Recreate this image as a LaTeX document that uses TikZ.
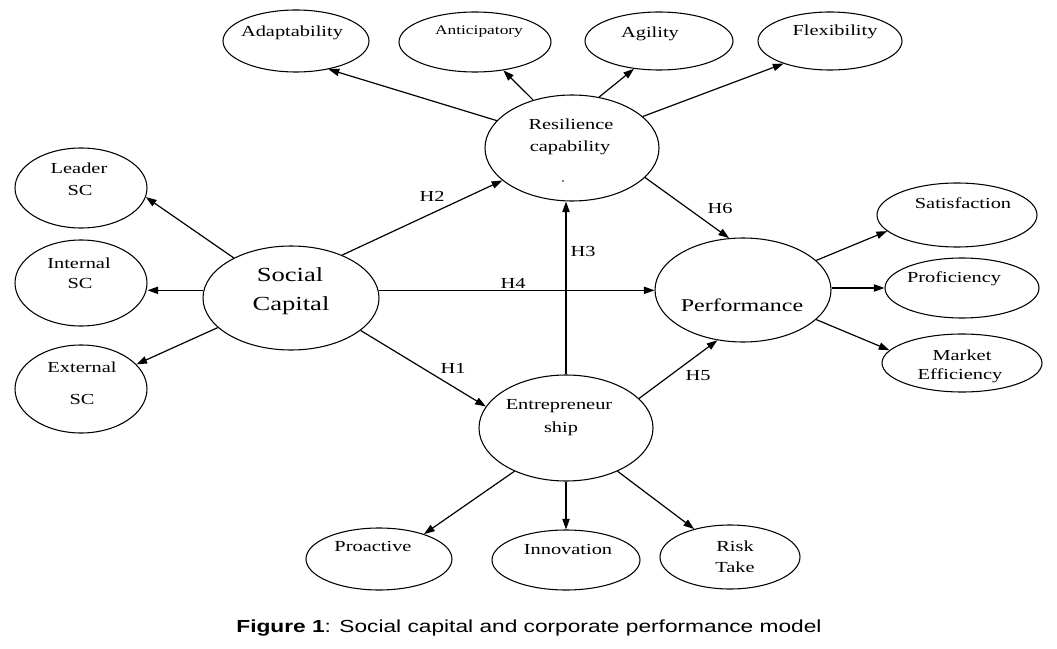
\documentclass[tikz,border=0pt]{standalone}
\usepackage{fontspec}
\setmainfont{Liberation Serif}[FakeStretch=1.33]
\newfontfamily\capfont{Liberation Sans}[FakeStretch=1.3]
\usetikzlibrary{shapes.geometric,arrows.meta}
\begin{document}
\begin{tikzpicture}[x=0.75pt,y=-0.75pt,
  ell/.style={ellipse, draw, line width=0.8pt, inner sep=0pt},
  arr/.style={-{Triangle[length=8pt,width=5.5pt]}, line width=0.9pt},
  tn/.style={inner sep=0pt, font=\fontsize{11.5pt}{13pt}\selectfont, text height=7.6pt, text depth=0pt},
  ts/.style={inner sep=0pt, font=\fontsize{9.8pt}{11pt}\selectfont, text height=6.5pt, text depth=0pt},
  tb/.style={inner sep=0pt, font=\fontsize{15pt}{17pt}\selectfont, text height=9.9pt, text depth=0pt},
  tp/.style={inner sep=0pt, font=\fontsize{13.5pt}{15pt}\selectfont, text height=8.9pt, text depth=0pt},
  capt/.style={inner sep=0pt, font=\capfont\fontsize{13.1pt}{15pt}\selectfont, text height=9.4pt, text depth=0pt}]
\useasboundingbox (0,0) rectangle (1057,649);
\fill[white] (0,0) rectangle (1057,649);

% ellipses
\node[ell, minimum width=109.5pt, minimum height=46.5pt] (adapt) at (296,41) {};
\node[ell, minimum width=114pt, minimum height=45pt] (antic) at (475,42) {};
\node[ell, minimum width=111pt, minimum height=43.5pt] (agil) at (659,41) {};
\node[ell, minimum width=108pt, minimum height=43.5pt] (flex) at (830,41) {};
\node[ell, minimum width=130.5pt, minimum height=79.5pt] (res) at (572,148) {};
\node[ell, minimum width=99pt, minimum height=60pt] (lead) at (81,188) {};
\node[ell, minimum width=99pt, minimum height=64.5pt] (int) at (81,283) {};
\node[ell, minimum width=99pt, minimum height=66pt] (ext) at (81,389) {};
\node[ell, minimum width=132pt, minimum height=78pt] (soc) at (291,298) {};
\node[ell, minimum width=132pt, minimum height=78pt] (perf) at (743,290) {};
\node[ell, minimum width=120pt, minimum height=48pt] (sat) at (957,215) {};
\node[ell, minimum width=115.5pt, minimum height=45pt] (prof) at (962,288) {};
\node[ell, minimum width=120pt, minimum height=43.5pt] (mkt) at (962,363) {};
\node[ell, minimum width=130.5pt, minimum height=79.5pt] (ent) at (566,428) {};
\node[ell, minimum width=109.5pt, minimum height=46.5pt] (proa) at (379,559) {};
\node[ell, minimum width=111pt, minimum height=45pt] (innov) at (566,560) {};
\node[ell, minimum width=105pt, minimum height=48pt] (risk) at (730,557) {};

% texts
\node[tn] (tadapt) at (292,31) {Adaptability};
\node[ts] (tantic) at (479,30) {Anticipatory};
\node[tn] (tagil) at (650,32) {Agility};
\node[tn] (tflex) at (835,30) {Flexibility};
\node[tn] (tres1) at (571,124) {Resilience};
\node[tn] (tres2) at (570,146) {capability};
\node[circle, fill, inner sep=0pt, minimum size=1.2pt] (dot) at (563,181) {};
\node[tn] (tlead1) at (79,168) {Leader};
\node[tn] (tlead2) at (80,190) {SC};
\node[tn] (tint1) at (79,263) {Internal};
\node[tn] (tint2) at (80,283) {SC};
\node[tn] (text1) at (82,367) {External};
\node[tn] (text2) at (82,399) {SC};
\node[tb] (tsoc1) at (290,275) {Social};
\node[tb] (tsoc2) at (291,304) {Capital};
\node[tp] (tperf) at (742,306) {Performance};
\node[tn] (tsat) at (963,203) {Satisfaction};
\node[tn] (tprof) at (954,277) {Proficiency};
\node[tn] (tmkt1) at (962,355) {Market};
\node[tn] (tmkt2) at (960,374) {Efficiency};
\node[tn] (tent1) at (559,404) {Entrepreneur};
\node[tn] (tent2) at (561,427) {ship};
\node[tn] (tproa) at (373,546) {Proactive};
\node[tn] (tinnov) at (568,549) {Innovation};
\node[tn] (trisk1) at (735,546) {Risk};
\node[tn] (trisk2) at (735,567) {Take};

% hypothesis labels
\node[tn] (h1) at (453,368) {H1};
\node[tn] (h2) at (432,196) {H2};
\node[tn] (h3) at (583,251) {H3};
\node[tn] (h4) at (513,283) {H4};
\node[tn] (h5) at (698,375) {H5};
\node[tn] (h6) at (720,208) {H6};

% connectors
\draw[arr] (res.160) -- (adapt.-41);
\draw[arr] (res.129) -- (antic.-45);
\draw[arr] (res.62) -- (agil.228);
\draw[arr] (res.24) -- (flex.206);
\draw[arr] (soc.145) -- (lead.-8);
\draw[arr] (soc.175) -- (soc.175 -| int.east);
\draw[arr] (soc.202) -- (ext.24);
\draw[arr] (soc.40) -- (res.205);
\draw[arr] (soc.5) -- (soc.5 -| perf.west);
\draw[arr] (ent.north) -- (ent.north |- res.south);
\draw[arr] (res.-22) -- (perf.105);
\draw[arr] (soc.-25) -- (ent.165);
\draw[arr] (ent.22) -- (perf.243);
\draw[arr] (perf.22) -- (sat.193);
\draw[arr] (prof.west -| perf.east) -- (prof.west);
\draw[arr] (perf.-22) -- (mkt.170);
\draw[arr] (ent.220) -- (proa.29);
\draw[arr] (ent.south) -- (ent.south |- innov.north);
\draw[arr] (ent.-40) -- (risk.142);

% caption
\node[capt] (cap) at (529,626) {\textbf{Figure 1}: Social capital and corporate performance model};
\end{tikzpicture}
\end{document}
